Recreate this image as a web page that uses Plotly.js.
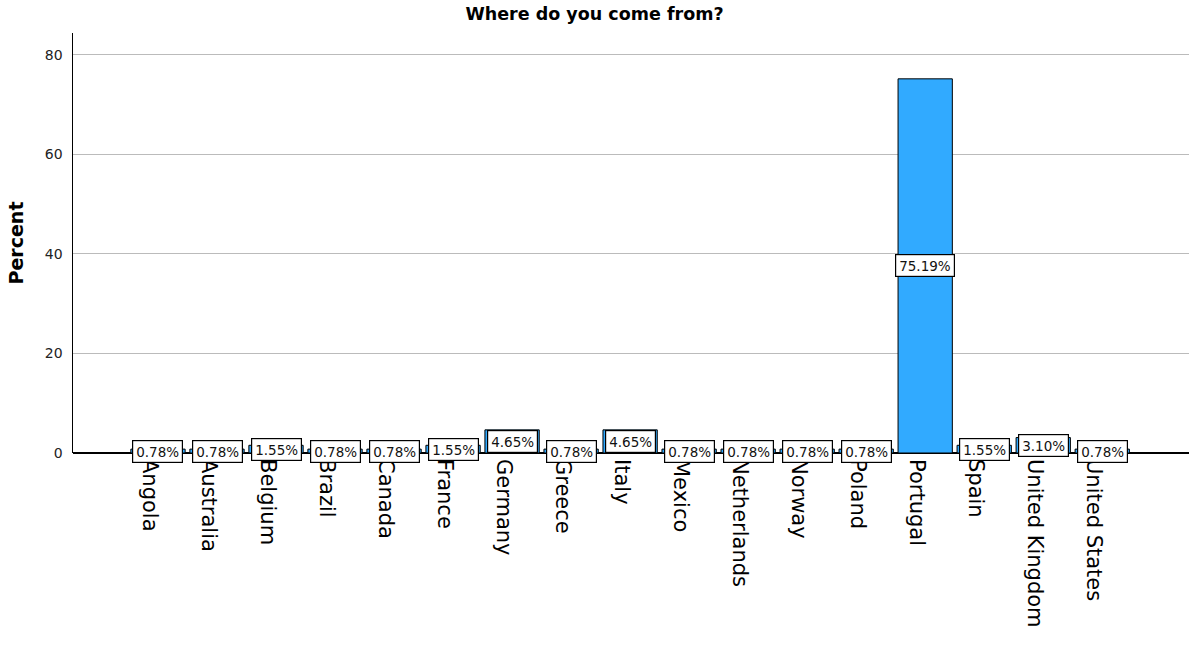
<!DOCTYPE html>
<html>
<head>
<meta charset="utf-8">
<script src="https://cdn.plot.ly/plotly-3.0.1.min.js"></script>
<style>html,body{margin:0;padding:0;background:#fff;}#chart{width:1189px;height:646px;}</style>
</head>
<body>
<div id="chart"></div>
<script>
const countries = ["Angola","Australia","Belgium","Brazil","Canada","France","Germany","Greece","Italy","Mexico","Netherlands","Norway","Poland","Portugal","Spain","United Kingdom","United States"];
const percents = [0.78,0.78,1.55,0.78,0.78,1.55,4.65,0.78,4.65,0.78,0.78,0.78,0.78,75.19,1.55,3.10,0.78];
const yTicks = [0,20,40,60,80];

const trace = {
  type: 'bar',
  x: countries,
  y: percents,
  width: 0.92,
  marker: {color: '#31AAFF', line: {color: '#000', width: 1}},
  hoverinfo: 'x+y'
};

const annotations = countries.map((c, i) => ({
  x: c,
  y: percents[i] / 2,
  xref: 'x', yref: 'y',
  text: percents[i].toFixed(2) + '%',
  showarrow: false,
  height: 15,
  bgcolor: '#fff',
  bordercolor: '#000',
  borderwidth: 1.2,
  borderpad: 3,
  font: {family: 'DejaVu Sans', size: 13.5, color: '#111'}
}));

const layout = {
  width: 1189, height: 646,
  margin: {l: 73, r: 0, t: 33, b: 193},
  paper_bgcolor: '#fff', plot_bgcolor: '#fff',
  showlegend: false,
  title: {text: '<b>Where do you come from?</b>', x: 0.5, xanchor: 'center', y: 0.978, yanchor: 'middle',
          font: {family: 'DejaVu Sans', size: 17.5, color: '#000'}},
  xaxis: {
    type: 'category',
    range: [-1.44, 17.47],
    tickangle: 90,
    ticks: '',
    showline: false,
    showgrid: false,
    zeroline: false,
    tickfont: {family: 'DejaVu Sans', size: 21, color: '#000'},
    ticklabelshift: -8,
    ticklabelstandoff: 5
  },
  yaxis: {
    range: [0, 84.4],
    tickvals: yTicks,
    ticktext: yTicks.map(String),
    ticks: '',
    showline: true, linecolor: '#000', linewidth: 1.5,
    showgrid: true, gridcolor: '#bbbbbb', gridwidth: 1,
    zeroline: true, zerolinecolor: '#000', zerolinewidth: 1.5,
    tickfont: {family: 'DejaVu Sans', size: 14, color: '#222'},
    ticklabelstandoff: 6,
    title: {text: '<b>Percent</b>', font: {family: 'DejaVu Sans', size: 19, color: '#000'}, standoff: 16}
  },
  annotations: annotations
};

Plotly.newPlot('chart', [trace], layout, {displayModeBar: false, staticPlot: true});
</script>
</body>
</html>
